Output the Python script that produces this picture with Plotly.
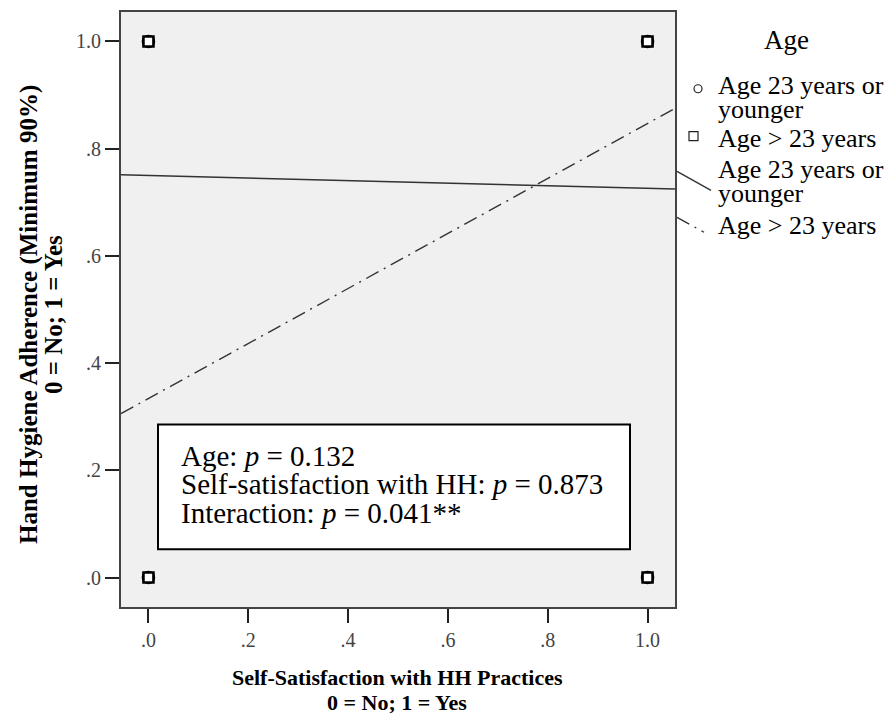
import plotly.graph_objects as go

# ---------------- data ----------------
satisfaction_levels = [0, 1]                 # x: Self-satisfaction (0 = No, 1 = Yes)
adherence_levels = [0, 1]                    # y: Hand hygiene adherence (0 = No, 1 = Yes)

# observed points (x, y) for each age group
young_x = [0, 1, 0, 1]
young_y = [0, 0, 1, 1]
older_x = [0, 1, 0, 1]
older_y = [0, 0, 1, 1]

# fitted line values at x = 0 and x = 1
young_fit = [0.750, 0.726]
older_fit = [0.334, 0.847]

tick_vals = [0, 0.2, 0.4, 0.6, 0.8, 1.0]
tick_text = [".0", ".2", ".4", ".6", ".8", "1.0"]

group_names = ["Age 23 years or<br>younger", "Age > 23 years"]
stats_lines = [
    "Age: <i>p</i> = 0.132",
    "Self-satisfaction with HH: <i>p</i> = 0.873",
    "Interaction: <i>p</i> = 0.041**",
]

# ---------------- layout constants (screen pixels) ----------------
W, H = 893, 719
PL, PR, PT, PB = 121, 675, 10, 607   # plot area on screen
ML, MR, MT, MB = PL, W - PR, PT, H - PB
AX_RANGE = [-0.055, 1.055]
SERIF = "Liberation Serif, Times New Roman, serif"


def px_x(px):
    return (px - PL) / (PR - PL)


def px_y(py):
    return (PB - py) / (PB - PT)


def fit_line(vals):
    slope = vals[1] - vals[0]
    xs = AX_RANGE
    return xs, [vals[0] + slope * x for x in xs]


fig = go.Figure()

DASHDOT = "14px,6px,2px,6px"

# fitted lines
xs, ys = fit_line(young_fit)
fig.add_trace(go.Scatter(x=xs, y=ys, mode="lines",
                         line=dict(color="#333333", width=1.4),
                         showlegend=False, hoverinfo="skip"))
xs, ys = fit_line(older_fit)
fig.add_trace(go.Scatter(x=xs, y=ys, mode="lines",
                         line=dict(color="#333333", width=1.4, dash=DASHDOT),
                         showlegend=False, hoverinfo="skip"))

# observed points
fig.add_trace(go.Scatter(x=young_x, y=young_y, mode="markers",
                         marker=dict(symbol="circle", size=11, color="white",
                                     line=dict(color="black", width=2.6)),
                         showlegend=False))
fig.add_trace(go.Scatter(x=older_x, y=older_y, mode="markers",
                         marker=dict(symbol="square", size=10, color="white",
                                     line=dict(color="black", width=2.6)),
                         showlegend=False))

shapes = []
annotations = []

# stats text box
shapes.append(dict(type="rect", xref="paper", yref="paper",
                   x0=px_x(158), x1=px_x(630), y0=px_y(549), y1=px_y(424),
                   line=dict(color="black", width=2), fillcolor="white", layer="above"))
for i, line in enumerate(stats_lines):
    annotations.append(dict(x=px_x(179), y=px_y(455 + i * 29), xref="paper", yref="paper",
                            text=line, showarrow=False, xanchor="left", yanchor="middle",
                            font=dict(family=SERIF, size=29, color="black")))

# axis titles
TITLE_FONT = dict(family=SERIF, size=22, color="black")
annotations.append(dict(x=px_x(397), y=px_y(678), xref="paper", yref="paper",
                        text="<b>Self-Satisfaction with HH Practices</b>", showarrow=False,
                        xanchor="center", yanchor="middle", font=TITLE_FONT))
annotations.append(dict(x=px_x(397), y=px_y(703), xref="paper", yref="paper",
                        text="<b>0 = No; 1 = Yes</b>", showarrow=False,
                        xanchor="center", yanchor="middle", font=TITLE_FONT))
annotations.append(dict(x=px_x(29), y=px_y(314), xref="paper", yref="paper",
                        text="<b>Hand Hygiene Adherence (Minimum 90%)</b>", showarrow=False,
                        textangle=-90, xanchor="center", yanchor="middle",
                        font=dict(family=SERIF, size=25, color="black")))
annotations.append(dict(x=px_x(54), y=px_y(314), xref="paper", yref="paper",
                        text="<b>0 = No; 1 = Yes</b>", showarrow=False,
                        textangle=-90, xanchor="center", yanchor="middle",
                        font=dict(family=SERIF, size=25, color="black")))

# legend (custom, drawn in pixel-based paper coords)
LEG_FONT = dict(family=SERIF, size=26, color="black")
annotations.append(dict(x=px_x(786), y=px_y(38), xref="paper", yref="paper", text="Age",
                        showarrow=False, xanchor="center", yanchor="middle",
                        font=dict(family=SERIF, size=27, color="black")))
legend_rows = [
    (group_names[0], 84, "circle"),
    (group_names[1], 137, "square"),
    (group_names[0], 168, "solid"),
    (group_names[1], 224, "dashdot"),
]
for text, ytop, kind in legend_rows:
    parts = text.split("<br>")
    for j, p in enumerate(parts):
        annotations.append(dict(x=px_x(716), y=px_y(ytop + j * 24), xref="paper", yref="paper",
                                text=p, showarrow=False, xanchor="left", yanchor="middle",
                                font=LEG_FONT))
    if kind == "circle":
        shapes.append(dict(type="circle", xref="paper", yref="paper",
                           x0=px_x(694), x1=px_x(702), y0=px_y(91), y1=px_y(83),
                           line=dict(color="#222", width=1.2)))
    elif kind == "square":
        shapes.append(dict(type="rect", xref="paper", yref="paper",
                           x0=px_x(689), x1=px_x(698), y0=px_y(139), y1=px_y(130),
                           line=dict(color="#222", width=1.2)))
    elif kind == "solid":
        shapes.append(dict(type="line", xref="paper", yref="paper",
                           x0=px_x(677), x1=px_x(711), y0=px_y(170), y1=px_y(189),
                           line=dict(color="#333", width=1.4)))
    else:
        shapes.append(dict(type="line", xref="paper", yref="paper",
                           x0=px_x(677), x1=px_x(704), y0=px_y(216), y1=px_y(231),
                           line=dict(color="#333", width=1.4, dash=DASHDOT)))

axis_common = dict(
    range=AX_RANGE, tickmode="array", tickvals=tick_vals, ticktext=tick_text,
    showgrid=False, zeroline=False, showline=True, mirror=True,
    linecolor="#444444", linewidth=2, ticks="outside", ticklen=14, tickwidth=1.6,
    tickcolor="#222222", tickfont=dict(family=SERIF, size=20, color="#444444"),
)

fig.update_layout(
    width=W, height=H,
    margin=dict(l=ML, r=MR, t=MT, b=MB),
    paper_bgcolor="white", plot_bgcolor="#f0f0f0",
    xaxis=dict(**axis_common),
    yaxis=dict(**axis_common),
    shapes=shapes, annotations=annotations,
    showlegend=False,
)

fig.write_html("out.html",
               config={"displayModeBar": False},
               post_script="document.body.style.margin='0';document.body.style.overflow='hidden';")
